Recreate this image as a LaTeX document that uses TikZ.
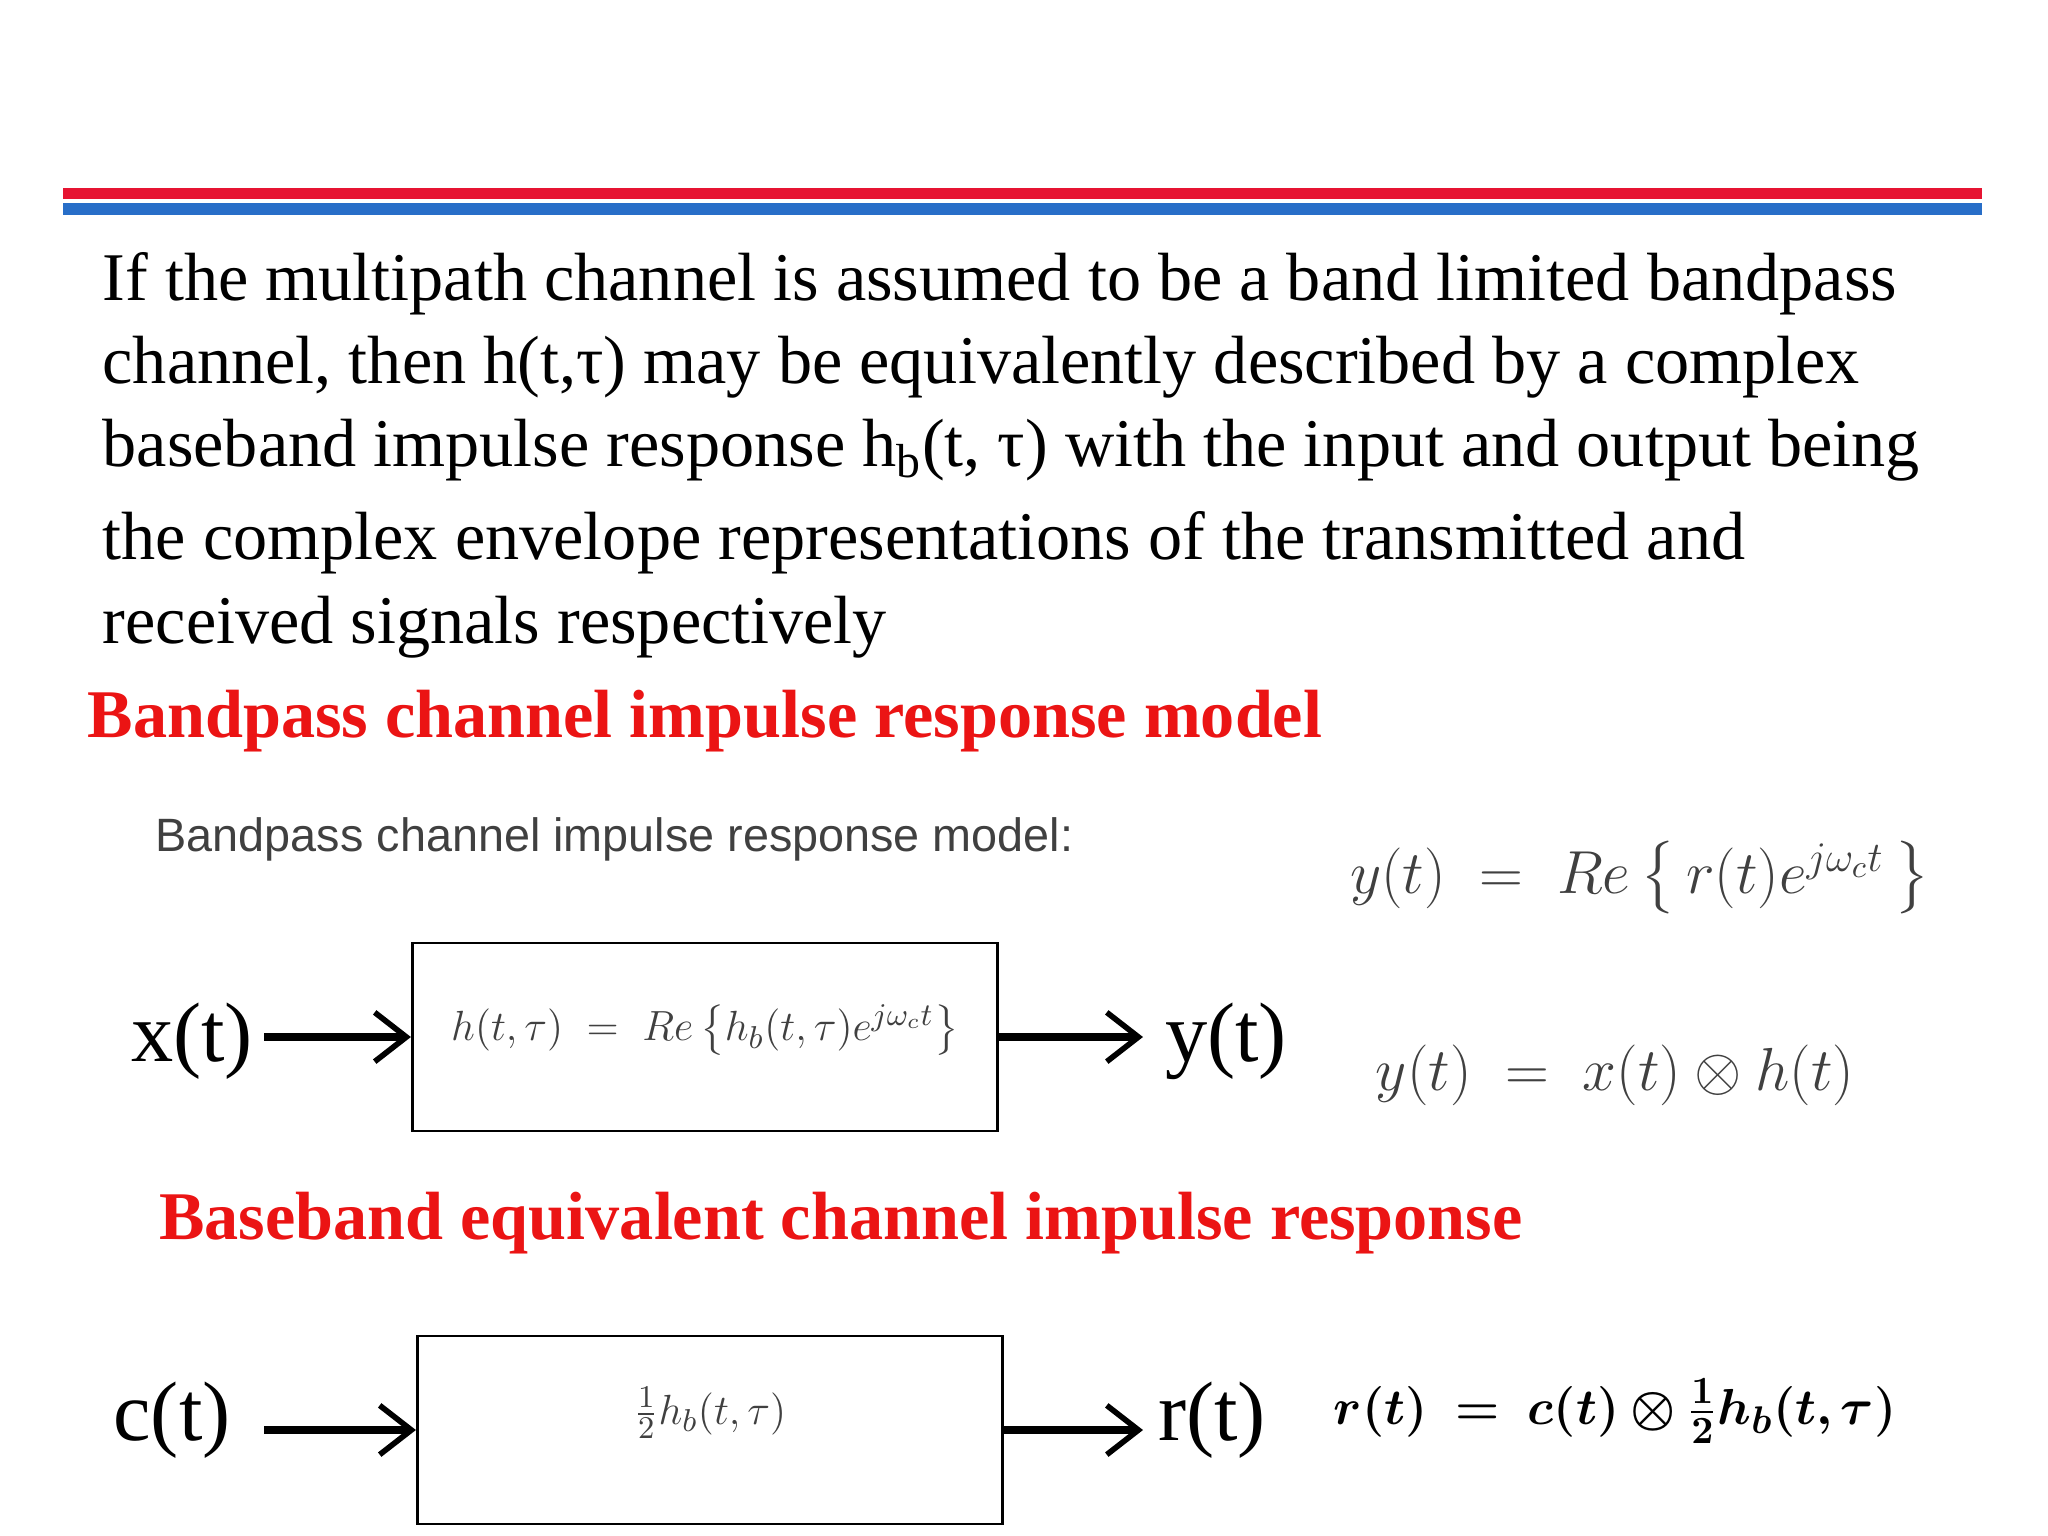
\documentclass[tikz,border=0pt]{standalone}
\usepackage{amsmath,bm}
\usepackage{fontspec}
\setmainfont{Liberation Serif}
\newfontfamily\grayfont{Liberation Sans}
\usetikzlibrary{arrows.meta}
\definecolor{topred}{RGB}{230,20,50}
\definecolor{topblue}{RGB}{40,110,200}
\definecolor{headred}{RGB}{235,20,20}
\begin{document}
\begin{tikzpicture}[x=0.01cm,y=-0.01cm,
  para/.style={anchor=west,inner sep=0,font=\fontsize{19.4}{22}\selectfont},
  head/.style={anchor=west,inner sep=0,text=headred,font=\fontsize{19.4}{22}\selectfont\bfseries},
  sig/.style={inner sep=0,font=\fontsize{24}{26}\selectfont},
  eq/.style={inner sep=0,text=black!75,font=\fontsize{18}{20}\selectfont},
  chan/.style={draw,line width=0.8pt,minimum width=5.85cm,minimum height=1.88cm,inner sep=0},
  arr/.style={-{Straight Barb[length=9pt,width=14pt,line width=1.6pt]},line width=2.2pt}]
\useasboundingbox (0,0) rectangle (2048,1536);
\fill[topred] (63,188) rectangle (1982,199);
\fill[topblue] (63,203) rectangle (1982,215);
\node[para] (l1) at (102,284) {If the multipath channel is assumed to be a band limited bandpass};
\node[para] (l2) at (102,367) {channel, then h(t,τ) may be equivalently described by a complex};
\node[para] (l3) at (102,450) {baseband impulse response h\textsubscript{b}(t, τ) with the input and output being};
\node[para] (l4) at (102,543) {the complex envelope representations of the transmitted and};
\node[para] (l5) at (102,627) {received signals respectively};
\node[head] (h1) at (87,721) {Bandpass channel impulse response model};
\node[anchor=west,inner sep=0,text=black!75,font=\grayfont\fontsize{13.3}{15}\selectfont] (g1) at (155,839) {Bandpass channel impulse response model:};
\node[eq] (e1) at (1640,878) {$y(t)\;=\;Re\left\{\,r(t)e^{j\omega_c t}\,\right\}$};
\node[chan] (b1) at (705,1037) {};
\node[inner sep=0,text=black!75,font=\fontsize{13}{15}\selectfont] (f1) at (705,1030) {$h(t,\tau)\;=\;Re\left\{h_b(t,\tau)e^{j\omega_c t}\right\}$};
\node[sig] (x) at (192,1041) {x(t)};
\node[sig] (y) at (1226,1041) {y(t)};
\draw[arr] (264,1037) -- (b1.west);
\draw[arr] (b1.east) -- (1143,1037);
\node[eq,font=\fontsize{18.5}{20}\selectfont] (e2) at (1615,1075) {$y(t)\;=\;x(t)\otimes h(t)$};
\node[head,anchor=center] (h2) at (841,1223) {Baseband equivalent channel impulse response};
\node[chan] (b2) at (710,1430) {};
\node[inner sep=0,text=black!75,font=\fontsize{13}{15}\selectfont] (f2) at (710,1413) {$\frac{1}{2}h_b(t,\tau)$};
\node[sig] (c) at (172,1420) {c(t)};
\node[sig] (r) at (1212,1420) {r(t)};
\draw[arr] (264,1430) -- (b2.west);
\draw[arr] (b2.east) -- (1143,1430);
\node[inner sep=0,font=\fontsize{15.7}{18}\selectfont] (e3) at (1615,1411) {$\bm{r(t)\;=\;c(t)\otimes\frac{1}{2}h_b(t,\tau)}$};
\end{tikzpicture}
\end{document}
